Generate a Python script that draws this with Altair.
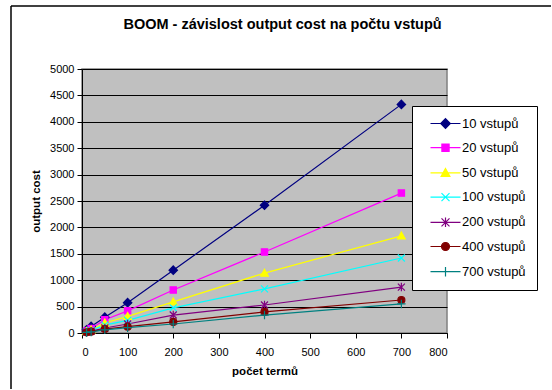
import altair as alt
import pandas as pd

terms = [10, 20, 50, 100, 200, 400, 700]
series_names = ["10 vstupů", "20 vstupů", "50 vstupů", "100 vstupů",
                "200 vstupů", "400 vstupů", "700 vstupů"]
s10 = [60, 125, 300, 575, 1190, 2420, 4330]
s20 = [40, 85, 250, 420, 815, 1535, 2650]
s50 = [30, 60, 190, 315, 590, 1135, 1840]
s100 = [25, 50, 150, 240, 475, 835, 1420]
s200 = [17, 35, 95, 170, 340, 530, 870]
s400 = [12, 25, 75, 120, 210, 400, 625]
s700 = [10, 20, 60, 100, 170, 340, 550]
all_values = [s10, s20, s50, s100, s200, s400, s700]

colors = ["#000080", "#FF00FF", "#FFFF00", "#00FFFF", "#800080", "#800000", "#008080"]

# marker paths (unit coordinates)
diamond = "M0,-1.2L1.2,0L0,1.2L-1.2,0Z"
square = "M-0.9,-0.9L0.9,-0.9L0.9,0.9L-0.9,0.9Z"
triangle = "M0,-1.1L1.1,0.9L-1.1,0.9Z"
xshape = "M-1,-1L1,1M-1,1L1,-1"
asterisk = "M-1,-1L1,1M-1,1L1,-1M0,-1.2L0,1.2"
circle = "M1,0A1,1 0 1,1 -1,0A1,1 0 1,1 1,0Z"
plus = "M-1.2,0L1.2,0M0,-1.2L0,1.2"
shapes = [diamond, square, triangle, xshape, asterisk, circle, plus]
stub = "M-3.75,0L3.75,0"
legend_shapes = [stub + s for s in shapes]

rows = []
for name, vals in zip(series_names, all_values):
    for t, v in zip(terms, vals):
        rows.append({"terms": t, "cost": v, "series": name})
df = pd.DataFrame(rows)

FONT = "Liberation Sans"

x = alt.X("terms:Q", scale=alt.Scale(domain=[0, 800], nice=False),
          axis=alt.Axis(title="počet termů", values=list(range(0, 801, 100)),
                        grid=False, tickSize=5, labelPadding=8, titlePadding=8,
                        labelFontSize=11, titleFontSize=11.5, titleFontWeight="bold",
                        labelFont=FONT, titleFont=FONT, domainColor="black",
                        tickColor="black", labelColor="black", titleColor="black",
                        format="d"))
y = alt.Y("cost:Q", scale=alt.Scale(domain=[0, 5000], nice=False),
          axis=alt.Axis(title="output cost", values=list(range(0, 5001, 500)),
                        grid=True, gridColor="black", gridWidth=1, tickSize=5,
                        labelPadding=3, titlePadding=8, labelFontSize=11,
                        titleFontSize=11.5, titleFontWeight="bold",
                        labelFont=FONT, titleFont=FONT, domainColor="black",
                        tickColor="black", labelColor="black", titleColor="black",
                        format="d"))

color_scale = alt.Scale(domain=series_names, range=colors)

base = alt.Chart(df)

lines = base.mark_line(strokeWidth=1.2).encode(
    x=x, y=y,
    color=alt.Color("series:N", scale=color_scale, legend=None),
    detail="series:N",
)

points = base.mark_point(filled=False, opacity=1, size=49, strokeWidth=1.2).encode(
    x=x, y=y,
    color=alt.Color("series:N", scale=color_scale, legend=None),
    fill=alt.Fill("series:N", scale=color_scale, legend=None),
    shape=alt.Shape("series:N", scale=alt.Scale(domain=series_names, range=shapes), legend=None),
)

legend = alt.Legend(title=None, orient="none", legendX=330, legendY=37,
                    fillColor="white", strokeColor="black", padding=11,
                    symbolSize=64, symbolStrokeWidth=1.2, labelFontSize=13,
                    labelFont=FONT, labelColor="black", rowPadding=10.2,
                    labelOffset=10, symbolOffset=16)

legend_layer = base.mark_point(filled=False, opacity=1, size=49, strokeWidth=1.2).encode(
    x=x, y=y,
    color=alt.Color("series:N", scale=color_scale, legend=legend),
    fill=alt.Fill("series:N", scale=color_scale, legend=legend),
    shape=alt.Shape("series:N", scale=alt.Scale(domain=series_names, range=legend_shapes),
                    legend=legend),
).transform_filter("false")

# outer chart frame (only its left and top edges fall inside the picture)
frame_data = pd.DataFrame({"a": [0]})
frame_left = alt.Chart(frame_data).mark_rule(color="black", strokeWidth=1.5).encode(
    x=alt.value(-71), y=alt.value(-63), y2=alt.value(320))
frame_top = alt.Chart(frame_data).mark_rule(color="black", strokeWidth=1.5).encode(
    x=alt.value(-71), x2=alt.value(469), y=alt.value(-63))

chart = alt.layer(frame_left, frame_top, lines, points, legend_layer).resolve_scale(
    color="independent", fill="independent", shape="independent"
).properties(
    width=365, height=264,
    title=alt.TitleParams("BOOM - závislost  output cost na počtu vstupů",
                          font=FONT, fontSize=14.5, fontWeight="bold", color="black",
                          anchor="middle", frame="group", dx=18, offset=-27),
    autosize=alt.AutoSizeParams(type="none"),
    padding={"left": 82, "top": 69, "right": 105, "bottom": 57},
    background="white",
).configure_view(
    fill="#C0C0C0", stroke="#808080", strokeWidth=1.5
)

chart.save("out.html", embed_options={"renderer": "svg", "actions": False})
